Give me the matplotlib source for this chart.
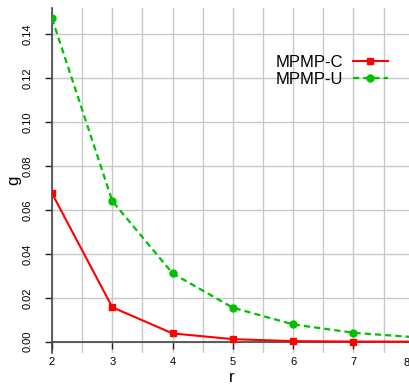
import matplotlib
matplotlib.use("Agg")
import matplotlib.pyplot as plt
import numpy as np

plt.rcParams["font.family"] = ["Liberation Sans", "DejaVu Sans"]

# data
r = [2, 3, 4, 5, 6, 7, 8]
mpmp_c = [0.0675, 0.0157, 0.0038, 0.0012, 0.0003, 0.0001, 0.00005]
mpmp_u = [0.1471, 0.0640, 0.0311, 0.0155, 0.0079, 0.0041, 0.0021]

fig = plt.figure(figsize=(4.1, 3.85), dpi=100)
ax = fig.add_axes([52 / 410, 32 / 385, 358 / 410, 345 / 385])

# the reference is cut just before r = 8
ax.set_xlim(2, 2 + 358 / 60.3)
ax.set_ylim(-0.0051, 0.1518)

# grid like R abline grid
ax.set_xticks(np.arange(2, 8.0, 0.5), minor=True)
ax.set_yticks(np.arange(0, 0.16, 0.02), minor=True)
ax.grid(True, which="both", color="#c8c8c8", lw=1.0)
ax.set_axisbelow(True)

ax.plot(r, mpmp_c, color="#ff0000", lw=1.5, marker="s", ms=5, label="MPMP-C", zorder=4)
ax.plot(r, mpmp_u, color="#00c000", lw=1.6, ls=(0, (2.8, 1.8)), marker="o", ms=5,
        label="MPMP-U", zorder=3)

for s in ["top", "right"]:
    ax.spines[s].set_visible(False)
ax.spines["bottom"].set_position(("data", 0))
ax.spines["left"].set_position(("data", 2))
ax.spines["bottom"].set_color("#444444")
ax.spines["left"].set_color("#444444")
ax.spines["bottom"].set_linewidth(1.2)
ax.spines["left"].set_linewidth(1.2)

ax.set_xticks(r[:-1])
ax.set_yticks([0, 0.02, 0.04, 0.06, 0.08, 0.10, 0.12, 0.14])
ax.set_yticklabels(["0.00", "0.02", "0.04", "0.06", "0.08", "0.10", "0.12", "0.14"],
                   rotation=90, va="center")
ax.tick_params(axis="both", which="major", labelsize=8, color="#222222",
               length=5, width=1)
ax.tick_params(axis="x", pad=6)
ax.tick_params(axis="y", pad=9)
ax.tick_params(which="minor", length=0)

# last x tick label, cut by the right edge in the reference
fig.text(1.0, 1 - 363 / 385, str(r[-1]), ha="right", va="center", fontsize=8)

ax.set_xlabel("r", fontsize=12)
ax.set_ylabel("g", fontsize=12, labelpad=1)
ax.xaxis.set_label_coords((232 - 52) / 358, -0.048)

ax.legend(loc="upper right", bbox_to_anchor=(388 / 410, 1 - 55 / 385),
          bbox_transform=fig.transFigure, frameon=False, markerfirst=False,
          fontsize=12, handlelength=2.1, handletextpad=0.6, labelspacing=0.1,
          borderpad=0, borderaxespad=0)

fig.savefig("out.png", dpi=100)
